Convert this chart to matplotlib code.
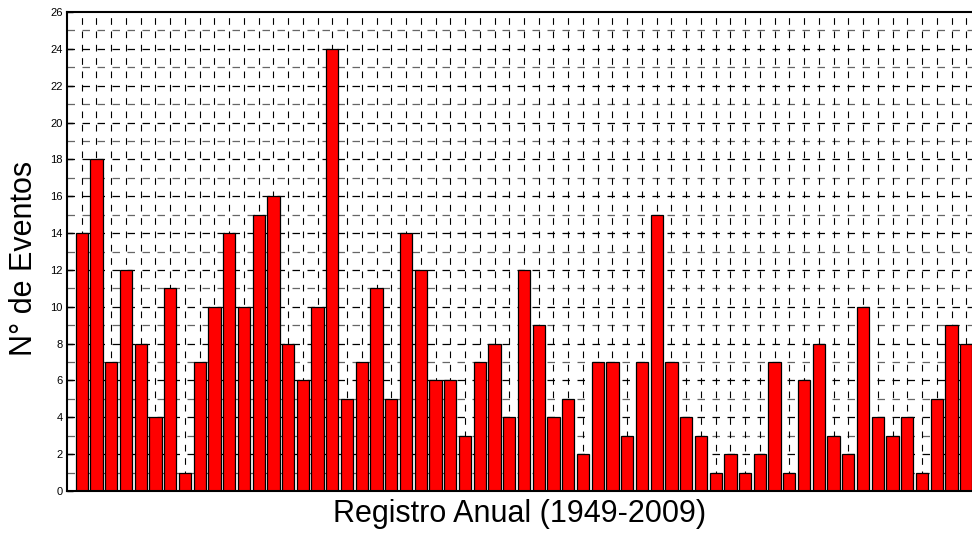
import matplotlib
matplotlib.use("Agg")
import matplotlib.pyplot as plt
import numpy as np

years = list(range(1949, 2010))
events = [14, 18, 7, 12, 8, 4, 11, 1, 7, 10,
          14, 10, 15, 16, 8, 6, 10, 24, 5, 7,
          11, 5, 14, 12, 6, 6, 3, 7, 8, 4,
          12, 9, 4, 5, 2, 7, 7, 3, 7, 15,
          7, 4, 3, 1, 2, 1, 2, 7, 1, 6,
          8, 3, 2, 10, 4, 3, 4, 1, 5, 9, 8]
yticks = list(range(0, 27, 2))
xlabel = "Registro Anual (1949-2009)"
ylabel = "N° de Eventos"

plt.rcParams['font.family'] = ['Liberation Sans', 'DejaVu Sans']

fig = plt.figure(figsize=(9.72, 5.35), dpi=100)
ax = fig.add_axes([67/972, 1-491/535, 914/972, (491-12)/535])

x = np.arange(1, len(events) + 1)

# grid
for yv in range(1, 26):
    col = 'black' if yv % 2 == 0 else '#666666'
    ax.axhline(yv, color=col, lw=0.9, ls=(0, (6, 6)), zorder=0)
for xv in x:
    ax.axvline(xv, color='black', lw=0.8, ls=(0, (6, 6)), zorder=0)

ax.bar(x, events, width=0.83, color='#ff0000', edgecolor='black', linewidth=0.9, zorder=2)

ax.set_xlim(0, 62)
ax.set_ylim(0, 26)
ax.set_yticks(yticks)
ax.set_yticklabels([str(v) for v in yticks], fontsize=8)
ax.set_xticks([])
ax.tick_params(axis='y', direction='in', length=4, width=1, pad=3)
for s in ax.spines.values():
    s.set_linewidth(1.5)
    s.set_color('black')

fig.text(24/972, 1-258/535, ylabel, rotation=90, fontsize=22, ha='center', va='center')
fig.text(520/972, 1-514/535, xlabel, fontsize=22, ha='center', va='center')

fig.savefig("out.png", dpi=100)
